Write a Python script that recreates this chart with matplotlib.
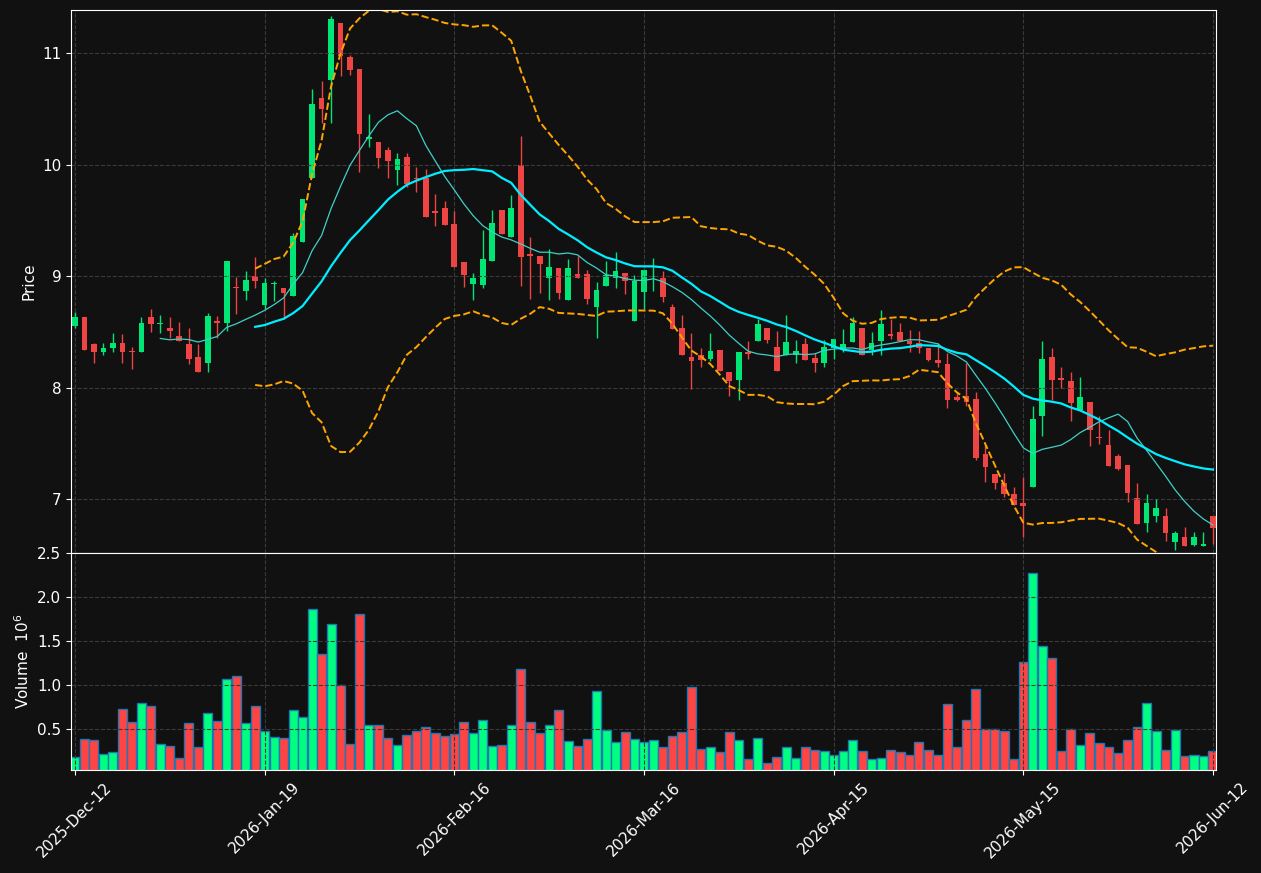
import numpy as np
import matplotlib
matplotlib.use('Agg')
import matplotlib.pyplot as plt

# OHLC, one row per trading bar
ohlc = [
    (8.55, 8.68, 8.54, 8.63), (8.63, 8.63, 8.34, 8.34), (8.39, 8.40, 8.22, 8.32), (8.32, 8.40, 8.29, 8.36),
    (8.36, 8.49, 8.32, 8.40), (8.40, 8.48, 8.22, 8.32), (8.33, 8.37, 8.17, 8.32), (8.32, 8.63, 8.32, 8.58),
    (8.63, 8.71, 8.50, 8.57), (8.57, 8.65, 8.49, 8.58), (8.54, 8.63, 8.45, 8.51), (8.46, 8.59, 8.42, 8.42),
    (8.39, 8.54, 8.21, 8.26), (8.28, 8.39, 8.14, 8.14), (8.22, 8.67, 8.14, 8.64), (8.60, 8.64, 8.45, 8.58),
    (8.58, 9.14, 8.51, 9.14), (8.90, 8.99, 8.66, 8.89), (8.87, 9.05, 8.79, 8.97), (9.00, 9.17, 8.89, 8.96),
    (8.74, 8.98, 8.71, 8.94), (8.93, 8.96, 8.78, 8.94), (8.89, 8.89, 8.62, 8.85), (8.82, 9.39, 8.82, 9.36),
    (9.31, 9.69, 9.31, 9.69), (9.88, 10.68, 9.88, 10.54), (10.60, 10.75, 10.37, 10.50), (10.76, 11.33, 10.37, 11.30),
    (11.27, 11.27, 10.79, 10.97), (10.96, 10.98, 10.80, 10.85), (10.86, 10.86, 9.93, 10.27), (10.23, 10.45, 10.16, 10.25),
    (10.20, 10.20, 9.97, 10.06), (10.13, 10.16, 9.88, 10.03), (9.95, 10.10, 9.82, 10.05), (10.07, 10.10, 9.80, 9.83),
    (9.88, 9.98, 9.75, 9.87), (9.88, 9.96, 9.53, 9.53), (9.58, 9.74, 9.45, 9.57), (9.61, 9.67, 9.46, 9.46),
    (9.47, 9.58, 9.08, 9.08), (9.13, 9.13, 8.90, 9.01), (8.93, 9.03, 8.79, 8.98), (8.92, 9.41, 8.89, 9.15),
    (9.14, 9.59, 9.14, 9.48), (9.59, 9.59, 9.38, 9.38), (9.35, 9.73, 9.35, 9.61), (10.00, 10.26, 8.91, 9.17),
    (9.20, 9.35, 8.80, 9.18), (9.18, 9.18, 8.85, 9.11), (8.98, 9.24, 8.79, 9.08), (9.07, 9.07, 8.80, 8.85),
    (8.79, 9.15, 8.79, 9.07), (9.02, 9.18, 8.98, 8.98), (9.02, 9.06, 8.75, 8.80), (8.72, 8.95, 8.45, 8.88),
    (8.91, 9.14, 8.91, 9.01), (8.98, 9.22, 8.89, 9.05), (9.03, 9.03, 8.84, 8.96), (8.60, 9.01, 8.60, 8.96),
    (8.86, 9.06, 8.71, 9.06), (8.99, 9.16, 8.87, 9.00), (8.98, 9.05, 8.77, 8.81), (8.72, 8.75, 8.53, 8.53),
    (8.54, 8.65, 8.29, 8.29), (8.28, 8.49, 7.99, 8.24), (8.29, 8.36, 8.19, 8.25), (8.26, 8.49, 8.24, 8.33),
    (8.34, 8.34, 8.15, 8.15), (8.14, 8.14, 7.93, 8.06), (8.07, 8.32, 7.89, 8.32), (8.32, 8.42, 8.26, 8.30),
    (8.42, 8.62, 8.42, 8.57), (8.54, 8.54, 8.40, 8.43), (8.37, 8.51, 8.15, 8.15), (8.29, 8.65, 8.29, 8.41),
    (8.29, 8.43, 8.22, 8.33), (8.39, 8.45, 8.25, 8.25), (8.27, 8.31, 8.14, 8.22), (8.22, 8.43, 8.19, 8.37),
    (8.36, 8.44, 8.26, 8.44), (8.35, 8.53, 8.32, 8.39), (8.41, 8.63, 8.41, 8.58), (8.54, 8.54, 8.29, 8.29),
    (8.34, 8.50, 8.29, 8.40), (8.42, 8.70, 8.29, 8.57), (8.48, 8.62, 8.44, 8.46), (8.50, 8.58, 8.42, 8.42),
    (8.42, 8.52, 8.32, 8.39), (8.40, 8.51, 8.31, 8.36), (8.36, 8.36, 8.24, 8.25), (8.25, 8.40, 8.19, 8.22),
    (8.21, 8.31, 7.82, 7.89), (7.92, 7.96, 7.88, 7.89), (7.93, 8.22, 7.84, 7.87), (7.90, 7.96, 7.35, 7.37),
    (7.41, 7.50, 7.16, 7.29), (7.23, 7.23, 7.09, 7.15), (7.15, 7.24, 7.02, 7.05), (7.05, 7.11, 6.95, 6.95),
    (6.97, 7.20, 6.66, 6.94), (7.11, 7.84, 7.11, 7.72), (7.75, 8.42, 7.57, 8.26), (8.28, 8.36, 7.89, 8.07),
    (8.09, 8.19, 8.00, 8.07), (8.06, 8.14, 7.70, 7.86), (7.80, 8.10, 7.80, 7.92), (7.87, 7.87, 7.48, 7.62),
    (7.56, 7.75, 7.50, 7.55), (7.49, 7.62, 7.30, 7.30), (7.39, 7.41, 7.26, 7.27), (7.31, 7.31, 6.98, 7.06),
    (7.01, 7.15, 6.78, 6.78), (6.79, 7.05, 6.71, 6.97), (6.85, 7.00, 6.80, 6.92), (6.85, 6.92, 6.63, 6.70),
    (6.62, 6.72, 6.55, 6.70), (6.66, 6.75, 6.58, 6.58), (6.59, 6.71, 6.58, 6.66), (6.58, 6.71, 6.58, 6.60),
    (6.85, 6.85, 6.60, 6.74),
]

volume = [
    0.18, 0.39, 0.38, 0.22, 0.24, 0.73, 0.58, 0.80, 0.76, 0.33, 0.31, 0.17, 0.57, 0.30, 0.68, 0.59,
    1.07, 1.10, 0.57, 0.76, 0.48, 0.41, 0.40, 0.72, 0.64, 1.86, 1.35, 1.69, 1.00, 0.33, 1.81, 0.55,
    0.55, 0.40, 0.32, 0.43, 0.48, 0.52, 0.45, 0.42, 0.44, 0.58, 0.45, 0.60, 0.31, 0.32, 0.55, 1.18,
    0.58, 0.45, 0.55, 0.72, 0.37, 0.31, 0.39, 0.93, 0.49, 0.35, 0.47, 0.39, 0.35, 0.38, 0.30, 0.42,
    0.47, 0.98, 0.27, 0.30, 0.24, 0.47, 0.38, 0.16, 0.40, 0.12, 0.18, 0.30, 0.17, 0.30, 0.26, 0.25,
    0.20, 0.25, 0.38, 0.25, 0.16, 0.17, 0.26, 0.24, 0.20, 0.35, 0.26, 0.20, 0.78, 0.30, 0.60, 0.96,
    0.50, 0.50, 0.48, 0.16, 1.26, 2.27, 1.44, 1.31, 0.25, 0.50, 0.32, 0.45, 0.34, 0.30, 0.23, 0.38,
    0.52, 0.80, 0.48, 0.26, 0.49, 0.19, 0.20, 0.19, 0.25,
]

tick_labels = ['2025-Dec-12', '2026-Jan-19', '2026-Feb-16', '2026-Mar-16',
               '2026-Apr-15', '2026-May-15', '2026-Jun-12']

o, h, l, c = [np.array(v) for v in zip(*ohlc)]
vol = np.array(volume)
x = np.arange(len(c))
up = c >= o

bg = '#111111'
green, red = '#00e676', '#ef4444'
vgreen, vred = '#00ff80', '#ff4444'

fig = plt.figure(figsize=(12.61, 8.73), dpi=100, facecolor=bg)
ax = fig.add_axes([71/1261, 1-553/873, 1145/1261, 543/873])
axv = fig.add_axes([71/1261, 1-770/873, 1145/1261, 217/873], sharex=ax)

for a in (ax, axv):
    a.set_facecolor(bg)
    a.grid(True, color='#3a3a3a', linestyle='--', linewidth=0.8)
    for s in a.spines.values():
        s.set_color('white')
    a.tick_params(colors='white', labelsize=11)

cols = np.where(up, green, red)
ax.vlines(x, l, h, color=cols, linewidth=1)
ax.bar(x, np.maximum(np.abs(c - o), 0.008), bottom=np.minimum(o, c), width=0.6, color=cols)

ma10 = np.convolve(c, np.ones(10)/10, mode='valid')
ma20 = np.convolve(c, np.ones(20)/20, mode='valid')
std20 = np.array([c[i-19:i+1].std() for i in range(19, len(c))])
ax.plot(x[9:], ma10, color='#40d0c8', linewidth=0.9)
ax.plot(x[19:], ma20, color='#00eeff', linewidth=1.6)
ax.plot(x[19:], ma20 + 2*std20, color='orange', linestyle='--', linewidth=1.4)
ax.plot(x[19:], ma20 - 2*std20, color='orange', linestyle='--', linewidth=1.4)
ax.set_ylim(6.52, 11.385)
ax.set_yticks([7, 8, 9, 10, 11])
ax.set_ylabel('Price', color='white', fontsize=11)
plt.setp(ax.get_xticklabels(), visible=False)

axv.bar(x, vol, width=0.95, color=np.where(up, vgreen, vred), edgecolor='#1f77b4', linewidth=1)
axv.set_ylim(0.035, 2.5)
axv.set_yticks([0.5, 1.0, 1.5, 2.0, 2.5])
axv.set_ylabel('Volume  $10^{6}$', color='white', fontsize=11)
axv.set_xlim(-0.42, 120.32)
axv.set_xticks(np.arange(0, 121, 20))
axv.set_xticklabels(tick_labels, rotation=45, ha='center')

fig.savefig('out.png', dpi=100, facecolor=bg)
